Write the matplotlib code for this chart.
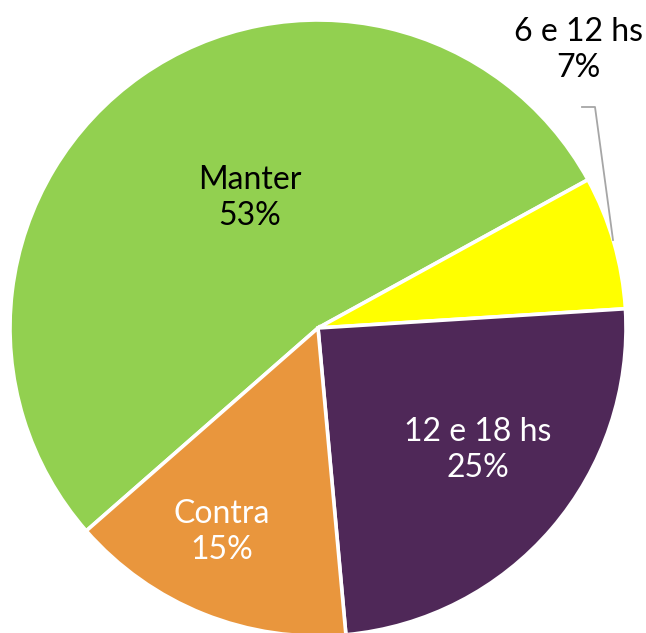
import matplotlib
matplotlib.use("Agg")
import matplotlib.pyplot as plt

labels = ["Manter", "6 e 12 hs", "12 e 18 hs", "Contra"]
values = [53.45, 7.0, 24.55, 15.0]
colors = ["#92D050", "#FFFF00", "#4F2858", "#E9963D"]
text_colors = ["black", "black", "white", "white"]

plt.rcParams['font.family'] = ['Lato', 'DejaVu Sans']

W, H = 646, 633
fig = plt.figure(figsize=(W / 100, H / 100), dpi=100)
ax = fig.add_axes([0, 0, 1, 1])

cx, cy, r = 318, H - 328, 308
ax.pie(values, colors=colors, startangle=221.2, counterclock=False,
       center=(cx, cy), radius=r, frame=True,
       wedgeprops=dict(edgecolor="white", linewidth=2.6))
ax.set_xlim(0, W)
ax.set_ylim(0, H)
ax.axis("off")

# label positions (pixels from top-left)
label_pos = [(250, 198), (578, 50), (478, 450), (222, 532)]
for lab, v, (x, y), tc in zip(labels, values, label_pos, text_colors):
    ax.text(x, H - y, f"{lab}\n{v:.0f}%", ha="center", va="center",
            fontsize=23, color=tc, linespacing=1.25)

# leader line for the small slice
ax.plot([582, 595, 613], [H - 107, H - 107, H - 240], color="#A6A6A6", lw=1.3)

fig.savefig("out.png", dpi=100)
